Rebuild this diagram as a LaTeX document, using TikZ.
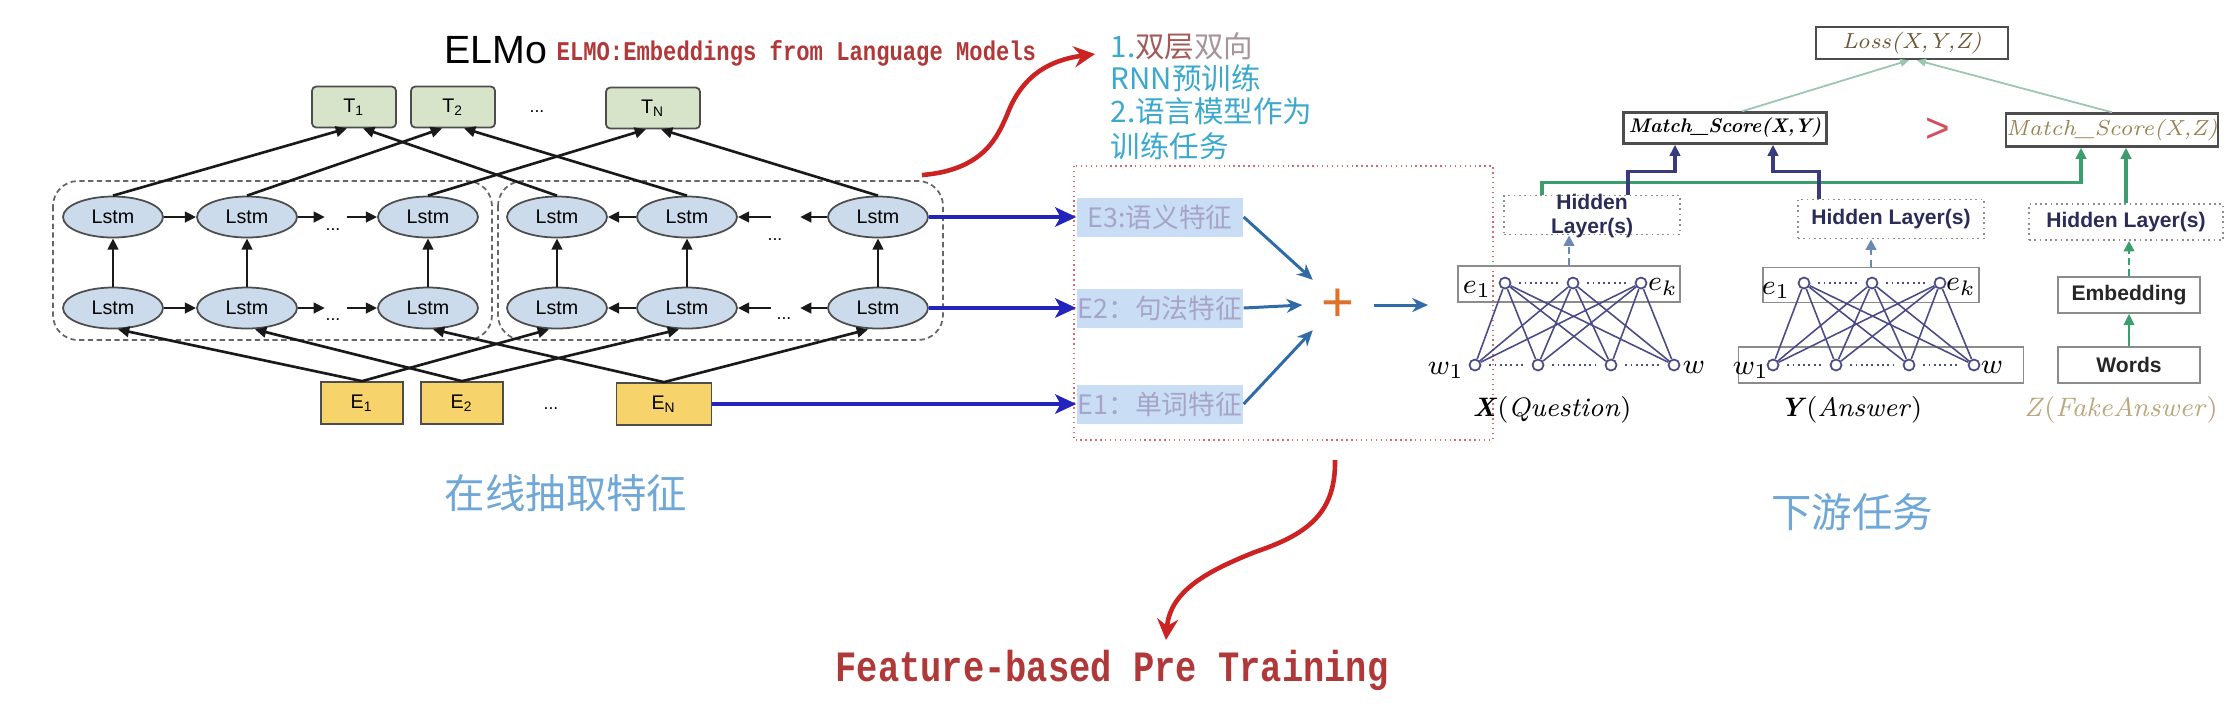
\documentclass[tikz,border=0pt]{standalone}
\usepackage{fontspec}
\usepackage{xcolor}
\usepackage{tikz}
\usetikzlibrary{shapes.geometric,arrows.meta}
\setsansfont{Liberation Sans}
\newfontfamily\cjkfont{Noto Sans CJK SC}
\newfontfamily\typefont[FakeStretch=0.82]{Liberation Mono}
\definecolor{ElLine}{HTML}{4D4D4D}
\definecolor{ElLstm}{HTML}{CBDBEB}
\definecolor{ElTok}{HTML}{D8E4CA}
\definecolor{ElEmb}{HTML}{F6D46B}
\definecolor{ElGrp}{HTML}{666666}
\definecolor{ElRed}{HTML}{B03838}
\definecolor{CurveRed}{HTML}{CC2222}
\definecolor{FeedBlue}{HTML}{2323BE}
\definecolor{NoteCyan}{HTML}{3BA9CD}
\definecolor{NoteBrown}{HTML}{A35A5A}
\definecolor{NoteGray}{HTML}{A6939B}
\definecolor{FeatFill}{HTML}{C9DDF4}
\definecolor{FeatText}{HTML}{A6A4C8}
\definecolor{SumBlue}{HTML}{2F6BA6}
\definecolor{SumOrange}{HTML}{E0702A}
\definecolor{CapBlue}{HTML}{6FA7D6}
\definecolor{BoxRed}{HTML}{D46A6A}
\definecolor{NetLine}{HTML}{4B4B87}
\definecolor{NetBox}{HTML}{8C8C8C}
\definecolor{HidText}{HTML}{2C2C58}
\definecolor{HidArrow}{HTML}{6B88B5}
\definecolor{MatchGreen}{HTML}{3C9D6D}
\definecolor{MatchNavy}{HTML}{3A3A7E}
\definecolor{LossGreen}{HTML}{9CC5B1}
\definecolor{GoldText}{HTML}{978352}
\definecolor{TanText}{HTML}{B8A77C}
\definecolor{LossText}{HTML}{6B5637}
\definecolor{GtRed}{HTML}{D2505E}

\tikzset{
  lstm/.style={ellipse,draw=ElLine,fill=ElLstm,line width=0.5pt,minimum width=10mm,minimum height=4.1mm,inner sep=0pt,font=\sffamily\fontsize{5.6}{6}\selectfont},
  tok/.style={draw=ElLine,fill=ElTok,rounded corners=1.2pt,line width=0.5pt,minimum width=8.4mm,minimum height=4.1mm,inner sep=0pt,font=\sffamily\fontsize{5.6}{6}\selectfont},
  emb/.style={draw=ElLine,fill=ElEmb,line width=0.5pt,minimum width=8.2mm,minimum height=4.2mm,inner sep=0pt,font=\sffamily\fontsize{5.6}{6}\selectfont},
  ellip/.style={font=\sffamily\fontsize{5}{5}\selectfont,inner sep=0pt},
  grp/.style={draw=ElGrp,dash pattern=on 1.5pt off 1pt,rounded corners=2.5mm,line width=0.5pt},
  elflow/.style={draw=black!90,line width=0.75pt,-{Triangle[length=3.2pt,width=3pt]}},
  feed/.style={draw=FeedBlue,line width=1.3pt,-{Stealth[length=6pt,width=5.5pt,inset=1.5pt]}},
  redcurve/.style={draw=CurveRed,line width=1.3pt,-{Stealth[length=6pt,width=6pt,inset=2pt]}},
  note/.style={anchor=west,inner sep=0pt,text=NoteCyan,font=\cjkfont\fontsize{8.4}{9}\selectfont},
  feat/.style={fill=FeatFill,minimum width=16.6mm,minimum height=3.9mm,inner sep=0pt,text=FeatText,font=\cjkfont\fontsize{7.6}{8}\selectfont},
  sumin/.style={draw=SumBlue,line width=0.85pt,-{Stealth[length=4.5pt,width=4pt]}},
  neuron/.style={circle,draw=NetLine,fill=white,line width=0.5pt,minimum size=1.1mm,inner sep=0pt},
  wire/.style={draw=NetLine,line width=0.45pt},
  gapdots/.style={draw=NetLine,line width=0.6pt,dash pattern=on 0.5pt off 1pt,shorten <=0.8mm,shorten >=0.8mm},
  wlab/.style={inner sep=0pt,font=\fontsize{8.5}{9}\selectfont},
  netbox/.style={draw=NetBox,line width=0.5pt,inner sep=0pt,font=\sffamily\bfseries\fontsize{6}{6}\selectfont,text=black!85},
  hid/.style={draw=NetBox,densely dotted,line width=0.5pt,inner sep=0pt,font=\sffamily\bfseries\fontsize{6}{6}\selectfont,text=HidText},
  hidtxt/.style={font=\sffamily\bfseries\fontsize{6}{6.9}\selectfont,text=HidText,align=center,inner sep=0pt},
  hidup/.style={draw=HidArrow,line width=0.8pt,dash pattern=on 2pt off 1.2pt,-{Triangle[length=3pt,width=3pt]}},
  scorebox/.style={draw=ElLine,line width=0.7pt,inner sep=0pt},
  toscore/.style={line width=0.9pt,-{Triangle[length=3.2pt,width=3pt]}},
  lossup/.style={draw=LossGreen,line width=0.5pt,-{Triangle[length=2.5pt,width=2.2pt]}},
  capt/.style={inner sep=0pt,font=\fontsize{7.6}{8}\selectfont}
}

\begin{document}
\begin{tikzpicture}[x=0.1mm,y=-0.1mm]
\path[use as bounding box] (0,0) rectangle (2238,708);
\node[font=\sffamily\fontsize{11.2}{12}\selectfont,inner sep=0pt] (elmo) at (496,50) {ELMo};
\node[anchor=west,inner sep=0pt,text=ElRed,font=\typefont\bfseries\fontsize{7.7}{8}\selectfont] (elmofull) at (556,53) {ELMO:Embeddings from Language Models};
\node[tok] (T1) at (354,107) {T\textsubscript{1}};
\node[tok] (T2) at (453,107) {T\textsubscript{2}};
\node[ellip] (tdots) at (537,112) {...};
\node[tok,minimum width=9.4mm] (TN) at (653,108) {T\textsubscript{N}};
\draw[grp] (53,181) rectangle (492,340);
\draw[grp] (498,181) rectangle (943,340);
\node[lstm] (ft1) at (113,217) {Lstm};
\node[lstm] (ft2) at (247,217) {Lstm};
\node[lstm] (ft3) at (428,217) {Lstm};
\node[lstm] (fb1) at (113,308) {Lstm};
\node[lstm] (fb2) at (247,308) {Lstm};
\node[lstm] (fb3) at (428,308) {Lstm};
\node[lstm] (bt1) at (557,217) {Lstm};
\node[lstm] (bt2) at (687,217) {Lstm};
\node[lstm] (bt3) at (878,217) {Lstm};
\node[lstm] (bb1) at (557,308) {Lstm};
\node[lstm] (bb2) at (687,308) {Lstm};
\node[lstm] (bb3) at (878,308) {Lstm};
\node[ellip] (fdots1) at (333,230) {...};
\node[ellip] (fdots2) at (333,320) {...};
\node[ellip] (bdots1) at (775,240) {...};
\node[ellip] (bdots2) at (784,319) {...};
\node[emb] (E1) at (362,403) {E\textsubscript{1}};
\node[emb] (E2) at (462,403) {E\textsubscript{2}};
\node[ellip] (edots) at (551,409) {...};
\node[emb,minimum width=9.5mm] (EN) at (664,404) {E\textsubscript{N}};
\draw[elflow] (ft1) -- (ft2);
\draw[elflow] (ft2.east) -- ++(27,0);
\draw[elflow] ([xshift=-3mm]ft3.west) -- (ft3.west);
\draw[elflow] (fb1) -- (fb2);
\draw[elflow] (fb2.east) -- ++(27,0);
\draw[elflow] ([xshift=-3mm]fb3.west) -- (fb3.west);
\draw[elflow] (bt2) -- (bt1);
\draw[elflow] ([xshift=3.3mm]bt2.east) -- (bt2.east);
\draw[elflow] (bt3.west) -- ++(-27,0);
\draw[elflow] (bb2) -- (bb1);
\draw[elflow] ([xshift=3.3mm]bb2.east) -- (bb2.east);
\draw[elflow] (bb3.west) -- ++(-27,0);
\draw[elflow] (fb1) -- (ft1);
\draw[elflow] (fb2) -- (ft2);
\draw[elflow] (fb3) -- (ft3);
\draw[elflow] (bb1) -- (bt1);
\draw[elflow] (bb2) -- (bt2);
\draw[elflow] (bb3) -- (bt3);
\draw[elflow] (ft1.north) -- ([xshift=-0.7mm]T1.south);
\draw[elflow] (bt1.north) -- ([xshift=0.9mm]T1.south);
\draw[elflow] (ft2.north) -- ([xshift=-1.1mm]T2.south);
\draw[elflow] (bt2.north) -- ([xshift=1.1mm]T2.south);
\draw[elflow] (ft3.north) -- ([xshift=-0.7mm]TN.south);
\draw[elflow] (bt3.north) -- ([xshift=0.8mm]TN.south);
\draw[elflow] (E1.north) -- ([xshift=0.5mm]fb1.south);
\draw[elflow] (E1.north) -- ([xshift=-0.8mm]bb1.south);
\draw[elflow] (E2.north) -- ([xshift=0.8mm]fb2.south);
\draw[elflow] (E2.north) -- ([xshift=-0.8mm]bb2.south);
\draw[elflow] (EN.north) -- ([xshift=0.5mm]fb3.south);
\draw[elflow] (EN.north) -- ([xshift=-1mm]bb3.south);
\node[text=CapBlue,inner sep=0pt,font=\cjkfont\fontsize{11.5}{12}\selectfont] (leftcap) at (566,493) {在线抽取特征};
\draw[BoxRed,densely dotted,line width=0.4pt] (1074,166) rectangle (1493,440);
\node[feat] (f3) at (1160,217) {E3:语义特征};
\node[feat] (f2) at (1160,308) {E2：句法特征};
\node[feat] (f1) at (1160,404) {E1：单词特征};
\draw[feed] (bt3.east) -- (f3.west);
\draw[feed] (bb3.east) -- (f2.west);
\draw[feed] (EN.east) -- (f1.west);
\node[circle,minimum size=7mm,inner sep=0pt,text=SumOrange,font=\sffamily\fontsize{16}{16}\selectfont] (plus) at (1338,305) {+};
\coordinate (xin) at (1428,305);
\draw[sumin] (f3.east) -- (plus.north west);
\draw[sumin] (f2.east) -- (plus.west);
\draw[sumin] (f1.east) -- (plus.south west);
\draw[sumin] (plus.east) -- (xin);
\node[note] (note1) at (1110,46) {1.\textcolor{NoteBrown}{双层}\textcolor{NoteGray}{双向}};
\node[note] (note2) at (1110,78) {RNN预训练};
\node[note] (note3) at (1110,111) {2.语言模型作为};
\node[note] (note4) at (1110,146) {训练任务};
\coordinate (upfrom) at (922,175);
\coordinate (upto) at (1095,54);
\draw[redcurve] (upfrom) .. controls (985,170) and (998,135) .. (1007,115) .. controls (1022,75) and (1050,60) .. (upto);
\coordinate (downfrom) at (1335,460);
\coordinate (downto) at (1166,640);
\draw[redcurve] (downfrom) .. controls (1336,515) and (1305,535) .. (1255,552) .. controls (1210,570) and (1170,590) .. (downto);
\node[text=ElRed,inner sep=0pt,font=\typefont\bfseries\fontsize{12.3}{13}\selectfont] (fbpt) at (1112,670) {Feature-based Pre Training};
\node[scorebox,minimum width=19.2mm,minimum height=3.2mm,text=LossText,font=\itshape\fontsize{6.2}{6.5}\selectfont] (loss) at (1912,43) {Loss(X,Y,Z)};
\node[scorebox,minimum width=20.3mm,minimum height=3.1mm,font=\bfseries\itshape\fontsize{5.6}{6}\selectfont] (msxy) at (1725,128) {Match\_Score(X,Y)};
\node[text=GtRed,inner sep=0pt,font=\sffamily\fontsize{12}{12}\selectfont] (gt) at (1938,130) {>};
\node[scorebox,minimum width=19.1mm,minimum height=3.3mm,text=GoldText,font=\itshape\fontsize{6.2}{6.5}\selectfont] (msxz) at (2112,130) {Match\_Score(X,Z)};
\node[hid,minimum width=17.6mm,minimum height=3.9mm] (hx) at (1592,215) {};
\node[hidtxt] (hxt) at (1592,216) {Hidden\\Layer(s)};
\node[hid,minimum width=18.6mm,minimum height=3.9mm] (hy) at (1891,219) {Hidden Layer(s)};
\node[hid,minimum width=19.4mm,minimum height=3.6mm] (hz) at (2126,222) {Hidden Layer(s)};
\node[netbox,minimum width=22.2mm,minimum height=3.6mm] (xe) at (1569,284) {};
\node[netbox,minimum width=21.6mm,minimum height=3.5mm] (ye) at (1871,285) {};
\node[netbox,minimum width=28.5mm,minimum height=3.6mm] (yw) at (1881,365) {};
\node[netbox,minimum width=14.2mm,minimum height=3.6mm] (zemb) at (2129,295) {Embedding};
\node[netbox,minimum width=14.2mm,minimum height=3.6mm] (zwords) at (2129,365) {Words};
\node[neuron] (xt1) at (1505,283) {};
\node[neuron] (xt2) at (1573,283) {};
\node[neuron] (xt3) at (1641,283) {};
\node[neuron] (xb1) at (1475,365) {};
\node[neuron] (xb2) at (1538,365) {};
\node[neuron] (xb3) at (1611,365) {};
\node[neuron] (xb4) at (1674,365) {};
\node[neuron] (yt1) at (1804,283) {};
\node[neuron] (yt2) at (1872,283) {};
\node[neuron] (yt3) at (1940,283) {};
\node[neuron] (yb1) at (1773,365) {};
\node[neuron] (yb2) at (1836,365) {};
\node[neuron] (yb3) at (1909,365) {};
\node[neuron] (yb4) at (1974,365) {};
\foreach \t in {1,2,3}{
  \foreach \b in {1,2,3,4}{
    \draw[wire] (xt\t) -- (xb\b);
    \draw[wire] (yt\t) -- (yb\b);
  }
}
\draw[gapdots] (xt1) -- (xt2);
\draw[gapdots] (xt2) -- (xt3);
\draw[gapdots] (xb1) -- (xb2);
\draw[gapdots] (xb2) -- (xb3);
\draw[gapdots] (xb3) -- (xb4);
\draw[gapdots] (yt1) -- (yt2);
\draw[gapdots] (yt2) -- (yt3);
\draw[gapdots] (yb1) -- (yb2);
\draw[gapdots] (yb2) -- (yb3);
\draw[gapdots] (yb3) -- (yb4);
\node[wlab] (xe1) at (1477,289) {$e_1$};
\node[wlab] (xek) at (1663,287) {$e_k$};
\node[wlab] (xw1) at (1446,370) {$w_1$};
\node[wlab] (xw) at (1694,367) {$w$};
\node[wlab] (ye1) at (1776,290) {$e_1$};
\node[wlab] (yek) at (1961,287) {$e_k$};
\node[wlab] (yw1) at (1751,370) {$w_1$};
\node[wlab] (yww) at (1992,367) {$w$};
\node[capt] (xcap) at (1552,410) {\textbf{\textit{X}}(\textit{Question})};
\node[capt] (ycap) at (1851,410) {\textbf{\textit{Y}}(\textit{Answer})};
\node[capt,text=TanText] (zcap) at (2121,410) {\textit{Z}(\textit{FakeAnswer})};
\draw[hidup] (xe.north) -- (xe.north |- hx.south);
\draw[hidup] (ye.north) -- (ye.north |- hy.south);
\draw[hidup,draw=MatchGreen] (zemb.north) -- (zemb.north |- hz.south);
\draw[toscore,draw=MatchGreen,line width=0.6pt] (zwords.north) -- (zemb.south);
\draw[toscore,draw=MatchGreen] ([xshift=-5mm]hx.north) -- ++(0,-12) -| ([xshift=-3.1mm]msxz.south);
\draw[toscore,draw=MatchGreen] (hz.north) -- (hz.north |- msxz.south);
\draw[toscore,draw=MatchNavy] ([xshift=3.6mm]hx.north) -- ++(0,-23) -| ([xshift=-5mm]msxy.south);
\draw[toscore,draw=MatchNavy] ([xshift=-7.2mm]hy.north) -- ++(0,-27) -| ([xshift=4.8mm]msxy.south);
\draw[lossup] ([xshift=1.7mm]msxy.north) -- ([xshift=-0.3mm]loss.south);
\draw[lossup] (msxz.north) -- ([xshift=0.5mm]loss.south);
\node[text=CapBlue,inner sep=0pt,font=\cjkfont\fontsize{11.5}{12}\selectfont] (rightcap) at (1852,512) {下游任务};
\end{tikzpicture}
\end{document}
